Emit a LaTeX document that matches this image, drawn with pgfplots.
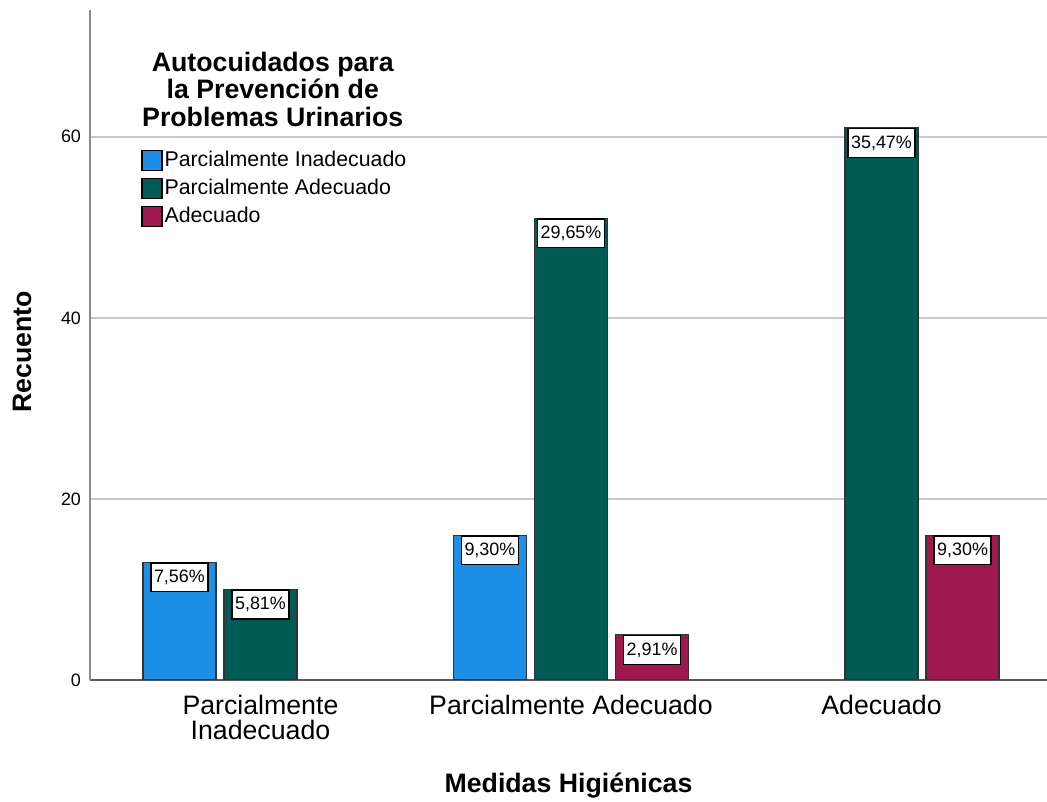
\documentclass[border=0pt]{standalone}
\usepackage{fontspec}
\setmainfont{Liberation Sans}
\usepackage{pgfplots}
\pgfplotsset{compat=1.18}

\definecolor{cBlue}{RGB}{30,143,230}
\definecolor{cTeal}{RGB}{0,90,85}
\definecolor{cRed}{RGB}{160,24,80}
\definecolor{cGrid}{RGB}{200,200,200}

\begin{document}
\begin{tikzpicture}
\useasboundingbox (0,0) rectangle (523.5bp,401bp);
\begin{axis}[
  at={(45bp,61bp)},anchor=south west,
  scale only axis,
  width=478.5bp,height=335bp,
  xmin=-0.549,xmax=2.533,ymin=0,ymax=74,
  axis x line*=bottom,axis y line*=left,
  x axis line style={draw=black!65,line width=0.8pt,-},
  y axis line style={draw=black!45,line width=0.8pt,-},
  xtick={0,1,2},
  xticklabels={{Parcialmente\\Inadecuado},{Parcialmente Adecuado},{Adecuado}},
  ytick={0,20,40,60},
  major tick length=0pt,
  ymajorgrids,
  grid style={cGrid,line width=0.8pt},
  /pgf/number format/assume math mode=true,
  yticklabel style={font=\fontsize{9}{10}\selectfont,xshift=-1bp},
  xticklabel style={font=\fontsize{13.4}{12.8}\selectfont,align=center,yshift=-4bp},
  xlabel={\textbf{Medidas Higiénicas}},
  ylabel={\textbf{Recuento}},
  label style={font=\fontsize{13.4}{14}\selectfont},
  xlabel style={at={(axis description cs:0.5,-0.157)},anchor=center},
  ylabel style={at={(axis description cs:-0.071,0.49)},anchor=center},
  ybar,
  bar width=0.235,
  point meta=explicit symbolic,
  nodes near coords,
  every node near coord/.append style={
    anchor=north,fill=white,draw=black,line width=0.7pt,
    inner xsep=1.5bp,inner ysep=3bp,font=\fontsize{9}{10}\selectfont,
    text height=6.8bp,text depth=1.6bp},
  legend style={
    at={(rel axis cs:0.047,0.80)},anchor=north west,
    draw=none,fill=none,
    font=\fontsize{10.7}{12}\selectfont,
    row sep=1.6bp,
    nodes={inner sep=1bp,text height=8bp,text depth=2.4bp}},
  legend cell align=left,
  legend image code/.code={
    \draw[#1,draw=black,line width=0.6pt] (-2bp,-5bp) rectangle (8bp,5bp);},
]
\addplot[fill=cBlue,draw=black!80,line width=0.6pt,bar shift=-0.261] coordinates {
  (0,13) [7,56\%]
  (1,16) [9,30\%]
};
\addplot[fill=cTeal,draw=black!80,line width=0.6pt,bar shift=0] coordinates {
  (0,10) [5,81\%]
  (1,51) [29,65\%]
  (2,61) [35,47\%]
};
\addplot[fill=cRed,draw=black!80,line width=0.6pt,bar shift=0.261] coordinates {
  (1,5) [2,91\%]
  (2,16) [9,30\%]
};
\legend{Parcialmente Inadecuado,Parcialmente Adecuado,Adecuado}
\node[font=\bfseries\fontsize{13.4}{13.75}\selectfont,align=center,anchor=north]
  at (rel axis cs:0.191,0.948) {Autocuidados para\\la Prevención de\\Problemas Urinarios};
\end{axis}
\end{tikzpicture}
\end{document}
